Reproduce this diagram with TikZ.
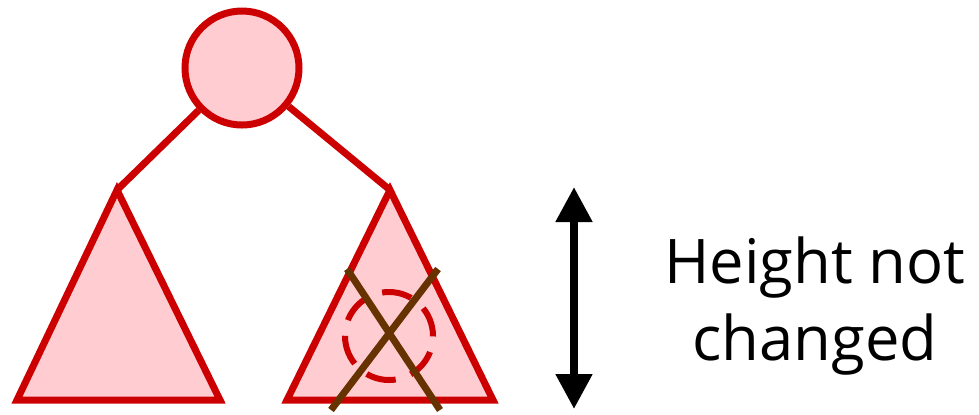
\documentclass[tikz,border=0pt]{standalone}
\usepackage{fontspec}
\setmainfont{Open Sans}
\usetikzlibrary{arrows.meta}
\definecolor{treered}{HTML}{CC0000}
\definecolor{treepink}{HTML}{FFCCD1}
\definecolor{crossbrown}{HTML}{663300}
\tikzset{
  treeline/.style={draw=treered,line width=7*0.02cm},
  subtree/.style={treeline,fill=treepink,line join=miter},
}
\begin{document}
\begin{tikzpicture}[x=0.02cm,y=-0.02cm]
    \useasboundingbox(0,0)rectangle(979,414);
    % root and the two subtrees
    \node[circle,minimum size=114*0.02cm,inner sep=0pt,subtree](root)at(242,68){};
    \coordinate(lapex)at(117,190);\coordinate(rapex)at(390,190);
    \draw[subtree](lapex)--(220,400)--(17,400)--cycle;
    \draw[subtree](rapex)--(493,400)--(287,400)--cycle;
    \draw[treeline](root)--(lapex);\draw[treeline](root)--(rapex);
    % removed node
    \node[circle,minimum size=88*0.02cm,inner sep=0pt,draw=treered,line width=6*0.02cm,dash pattern=on 30*0.02cm off 16*0.02cm](gone)at(389,336){};
    \draw[crossbrown,line width=7*0.02cm](347,269)--(440,410);
    \draw[crossbrown,line width=7*0.02cm](438,269)--(331,410);
    % height arrow
    \coordinate(htop)at(574,187);\coordinate(hbot)at(574,409);
    \draw[line width=8*0.02cm,{Triangle[length=35*0.02cm,width=35*0.02cm]}-{Triangle[length=35*0.02cm,width=35*0.02cm]}](htop)--(hbot);
    \node[font=\fontsize{35}{42}\selectfont,align=center](lbl)at(815,306){Height not\\[2pt]changed};
  \end{tikzpicture}
\end{document}
